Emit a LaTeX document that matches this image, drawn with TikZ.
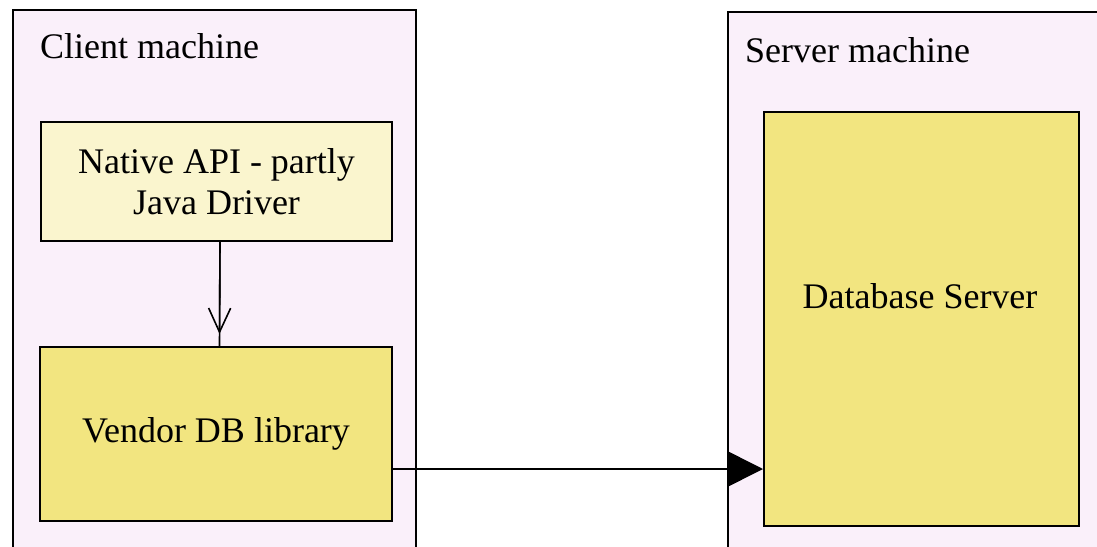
\documentclass[tikz,border=0pt]{standalone}
\usepackage{fontspec}
\setmainfont{Liberation Serif}
\usetikzlibrary{arrows.meta,calc}
\definecolor{machinebg}{RGB}{250,240,250}
\definecolor{paleyellow}{RGB}{250,245,206}
\definecolor{darkyellow}{RGB}{242,229,128}
\tikzset{
  machine/.style={draw=black, line width=2pt, fill=machinebg, anchor=north west, inner sep=0pt},
  compbox/.style={draw=black, line width=2pt, anchor=north west, inner sep=0pt, align=center,
    font=\fontsize{36}{41}\selectfont},
  title/.style={anchor=base west, inner sep=0pt, font=\fontsize{36}{41}\selectfont},
  conn/.style={draw=black, line width=1.6pt}
}
\begin{document}
\begin{tikzpicture}[x=1pt,y=-1pt]
\useasboundingbox (0,0) rectangle (1097,546);
\fill[white] (0,0) rectangle (1097,546);
\clip (0,0) rectangle (1097,546);
% machines
\node[machine, minimum width=403pt, minimum height=550pt] (client) at (12,9) {};
\node[machine, minimum width=390pt, minimum height=550pt] (server) at (727,11) {};
\node[title] (clientlbl) at (40,58) {Client machine};
\node[title] (serverlbl) at (745,62) {Server machine};
% components
\node[compbox, fill=paleyellow, minimum width=351pt, minimum height=119pt] (nat) at (40,121)
  {Native API - partly\\Java Driver};
\node[compbox, fill=darkyellow, minimum width=352pt, minimum height=174pt] (ven) at (39,346)
  {Vendor DB library};
\node[compbox, fill=darkyellow, minimum width=315pt, minimum height=414pt] (db) at (763,111) {};
\node[title, anchor=center] (dbtxt) at (920,296) {Database Server};
% connectors
\draw[conn] ([xshift=3.5pt]nat.south) -- ([xshift=3.5pt]ven.north);
\draw[conn, -{Straight Barb[length=24pt,width=22pt,line width=1.6pt]}] ([xshift=3.5pt]nat.south) -- ([xshift=3.5pt,yshift=12pt]ven.north);
\draw[conn, -{Triangle[length=36pt,width=36pt]}] ([yshift=-35pt]ven.east) -- ([yshift=-35pt]ven.east -| db.west);
\end{tikzpicture}
\end{document}
